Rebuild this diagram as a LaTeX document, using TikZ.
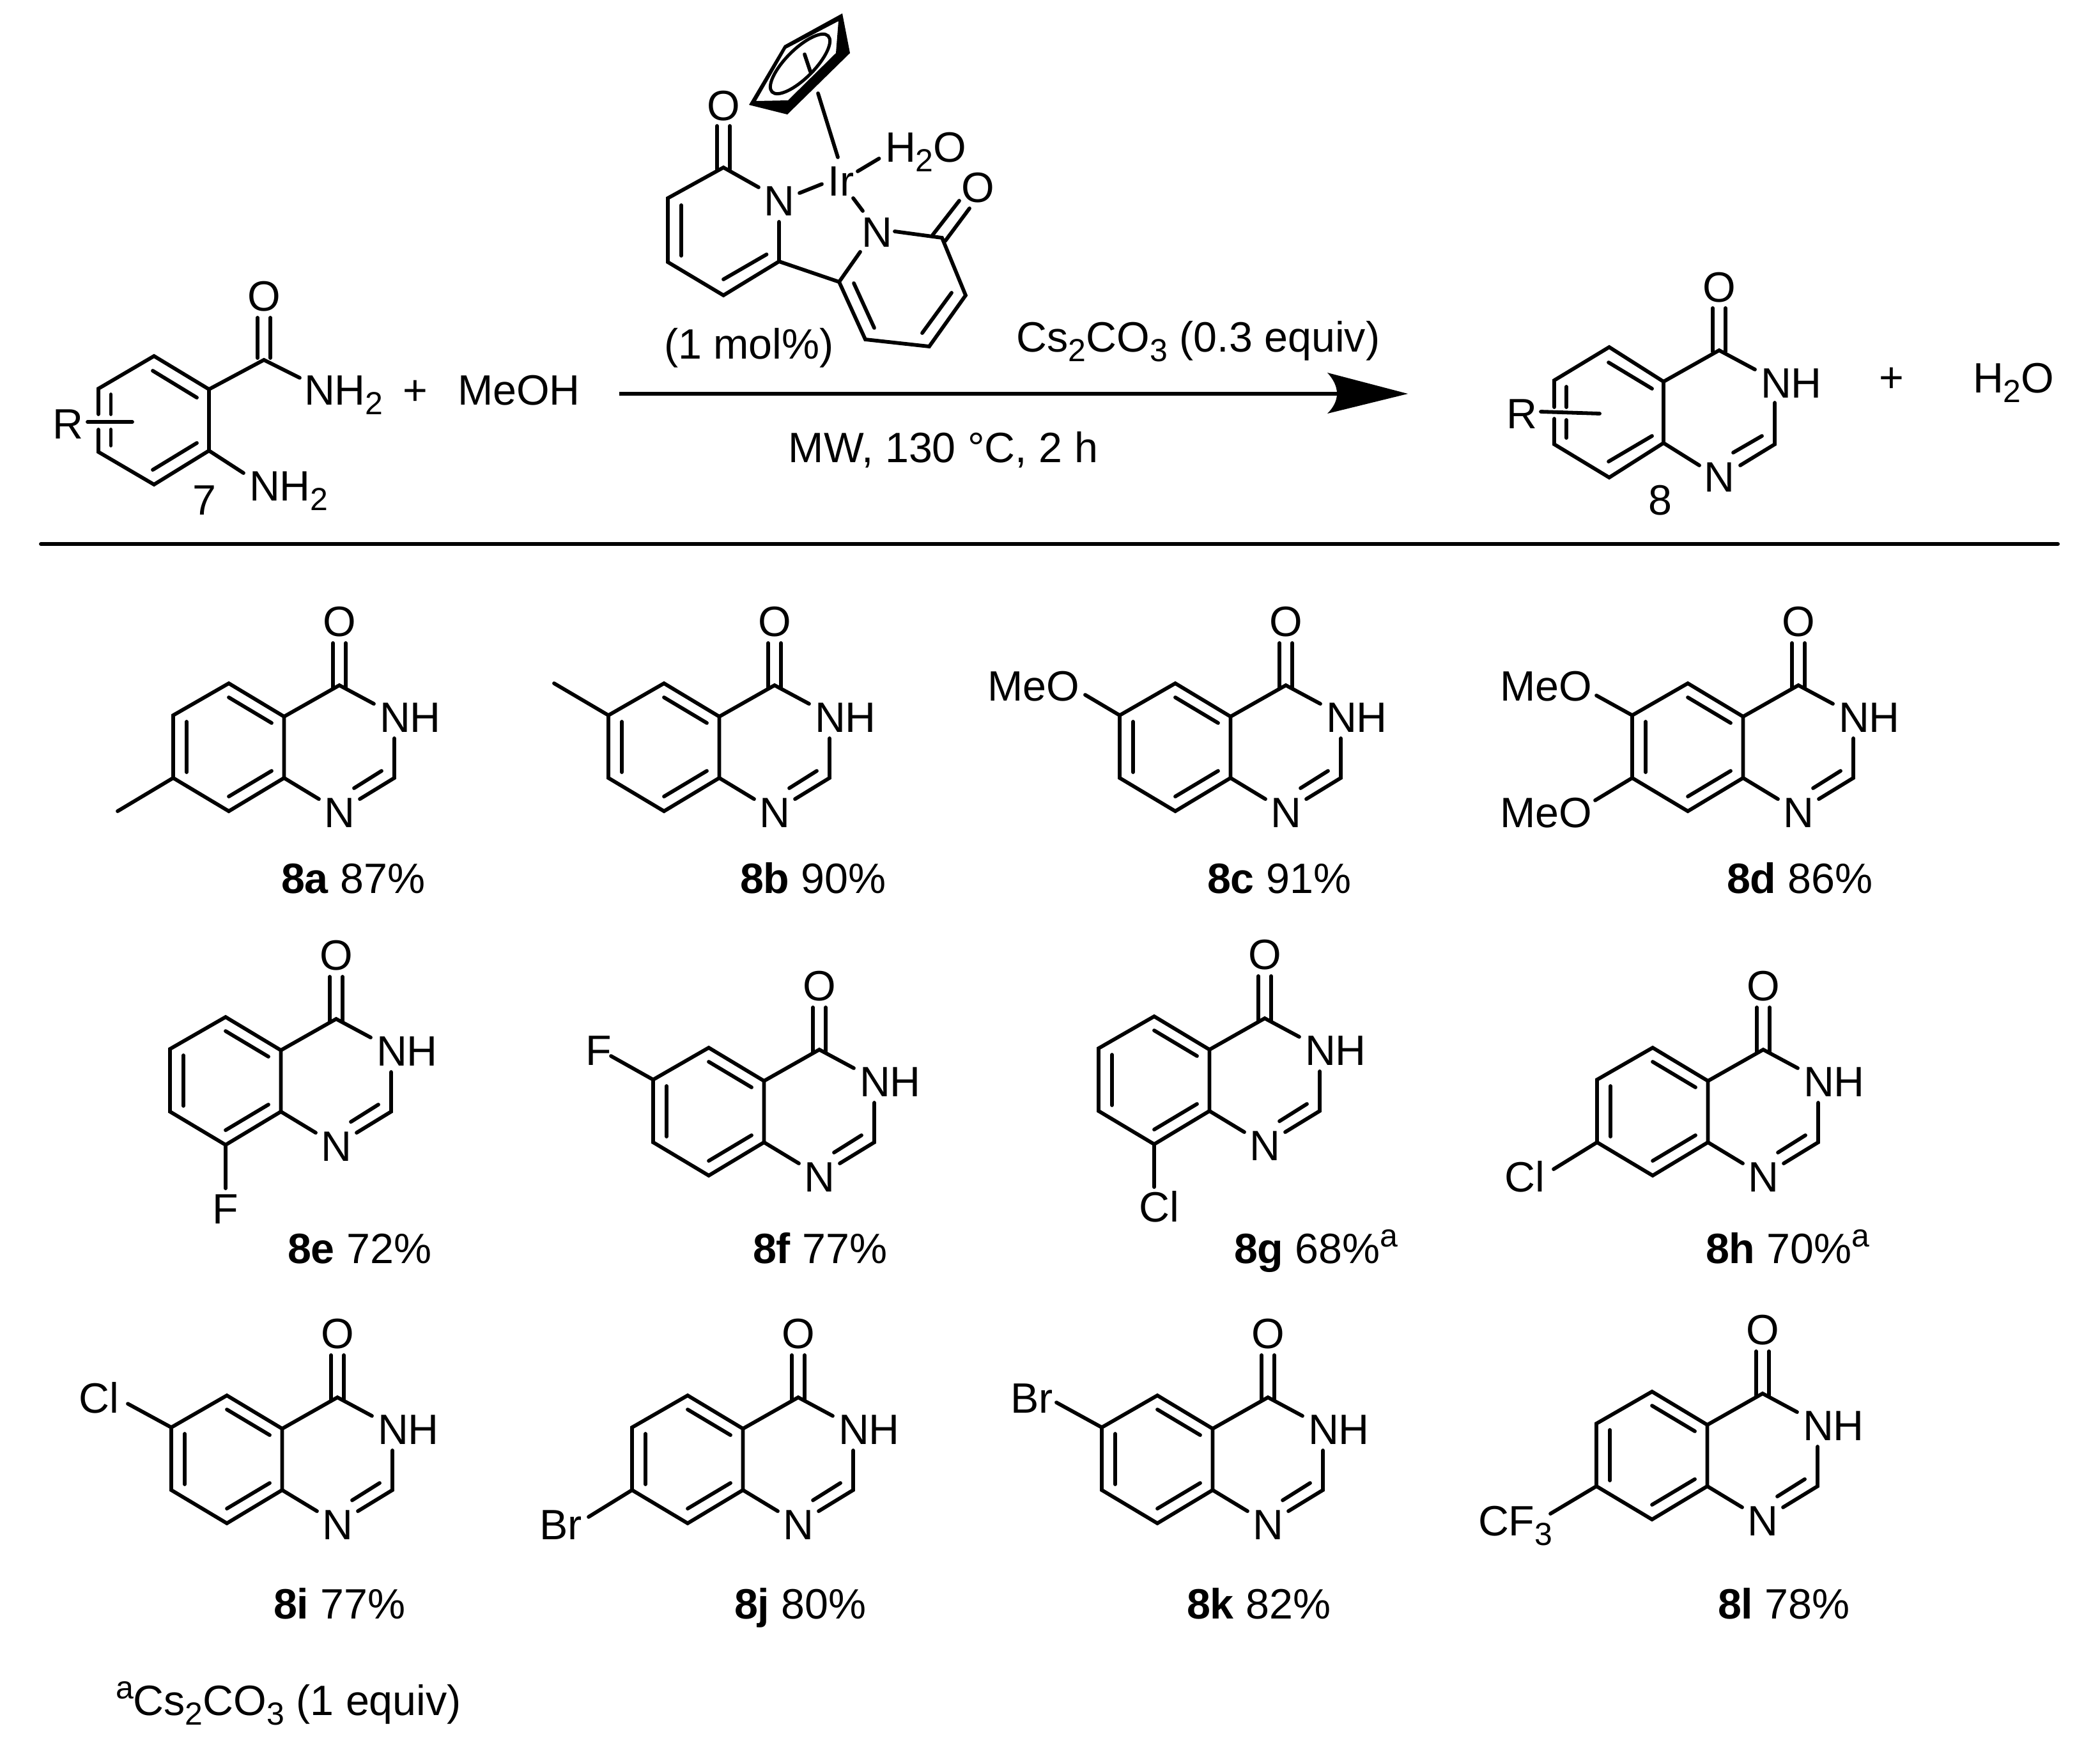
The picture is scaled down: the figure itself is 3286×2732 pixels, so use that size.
\documentclass[tikz,border=0pt]{standalone}
\usepackage{fontspec}
\setmainfont{Liberation Sans}
\usetikzlibrary{calc}
\newcommand\lowr[1]{\raisebox{-3.75pt}{\fontsize{12.5pt}{12pt}\selectfont #1}}
\newcommand\highr[1]{\raisebox{6.5pt}{\fontsize{12.5pt}{12pt}\selectfont #1}}
\tikzset{
  bond/.style={line width=1.45pt,line cap=round,line join=miter,black},
  atom/.style={inner sep=0pt,outer sep=0pt,anchor=base,font=\fontsize{16.6pt}{18pt}\selectfont},
  atomw/.style={atom,anchor=base west},
  atome/.style={atom,anchor=base east},
  yieldlabel/.style={atom,anchor=base west}
}
% quinazolinone skeleton, origin = centre of the N1 label
\newcommand\quin[3]{%
\begin{scope}[shift={(#2,#3)},name prefix=#1-]
  \coordinate (C4) at (0,-198);
  \coordinate (C4a) at (-86.5,-149);
  \coordinate (C8a) at (-86.5,-53);
  \coordinate (C5) at (-173,-201);
  \coordinate (C6) at (-260,-151);
  \coordinate (C7) at (-260,-53);
  \coordinate (C8) at (-173,-1);
  \coordinate (C2) at (86,-53);
  \coordinate (n3e) at (54,-169);
  \coordinate (n3s) at (86,-115);
  \coordinate (n1a) at (-32,-20);
  \coordinate (n1b) at (32,-20);
  \coordinate (i1a) at (66,-64);
  \coordinate (i1b) at (23,-37);
  \coordinate (o1a) at (-10,-193);
  \coordinate (o1b) at (-10,-264);
  \coordinate (o2a) at (10,-193);
  \coordinate (o2b) at (10,-264);
  \coordinate (i2a) at (-173,-179);
  \coordinate (i2b) at (-106,-139);
  \coordinate (i3a) at (-239,-141);
  \coordinate (i3b) at (-239,-62);
  \coordinate (i4a) at (-173,-24);
  \coordinate (i4b) at (-106,-64);
  \coordinate (anc) at (0,0);
  \node[atom] (N1) at (0,24) {N};
  \node[atomw] (NH) at (63,-125) {NH};
  \node[atom] (O) at (0,-275) {O};
  \draw[bond] (C4a)--(C5)--(C6)--(C7)--(C8)--(C8a)--cycle;
  \draw[bond] (C4a)--(C4)--(n3e);
  \draw[bond] (C8a)--(n1a);
  \draw[bond] (n1b)--(C2)--(n3s);
  \draw[bond] (i1a)--(i1b);
  \draw[bond] (o1a)--(o1b);
  \draw[bond] (o2a)--(o2b);
  \draw[bond] (i2a)--(i2b);
  \draw[bond] (i3a)--(i3b);
  \draw[bond] (i4a)--(i4b);
\end{scope}}
% #1 molecule, #2 ring atom, #3 free end (offset from anchor), #4 text style, #5 text position, #6 text
\newcommand\subst[6]{%
  \node[#4] (#1-X#2) at ($(#1-anc)+(#5)$) {#6};
  \coordinate (#1-E#2) at ($(#1-anc)+(#3)$);
  \draw[bond] (#1-#2)--(#1-E#2);
}
\begin{document}
\begin{tikzpicture}[x=0.25pt,y=-0.25pt]
\useasboundingbox (0,0) rectangle (3286,2732);

% ---------- substrate 7
\coordinate (sa) at (241,557);
\coordinate (sb) at (154,608);
\coordinate (sb1) at (154,648);
\coordinate (sb2) at (154,672);
\coordinate (sc) at (154,707);
\coordinate (sd) at (241,758);
\coordinate (se) at (327,705);
\coordinate (sf) at (327,609);
\coordinate (sg) at (413,563);
\coordinate (sh) at (469,591);
\coordinate (si) at (381,740);
\draw[bond] (sb1)--(sb)--(sa)--(sf)--(se)--(sd)--(sc)--(sb2);
\draw[bond] (sf)--(sg)--(sh);
\draw[bond] (se)--(si);
\coordinate (si1) at (239,580); \coordinate (si2) at (308,622);
\coordinate (si3) at (239,735); \coordinate (si4) at (308,693);
\coordinate (si5) at (173.5,617); \coordinate (si6) at (173.5,648);
\coordinate (si7) at (173.5,672); \coordinate (si8) at (173.5,697);
\draw[bond] (si1)--(si2);
\draw[bond] (si3)--(si4);
\draw[bond] (si5)--(si6);
\draw[bond] (si7)--(si8);
\coordinate (so1) at (403,497); \coordinate (so2) at (403,560);
\coordinate (so3) at (423,497); \coordinate (so4) at (423,560);
\draw[bond] (so1)--(so2);
\draw[bond] (so3)--(so4);
\coordinate (sr1) at (137,660); \coordinate (sr2) at (207,660);
\draw[bond] (sr1)--(sr2);
\node[atom] (sO) at (413,486) {O};
\node[atomw] (sNH) at (476,633) {NH\lowr{2}};
\node[atomw] (sNHb) at (390,783) {NH\lowr{2}};
\node[atom] (sR) at (106,686) {R};
\node[atom] (s7) at (320,805) {7};
\node[atom] (plus1) at (650,633) {+};
\node[atomw] (meoh) at (716,633) {MeOH};

% ---------- catalyst
\coordinate (a1) at (1132,262);
\coordinate (a2) at (1045,310);
\coordinate (a3) at (1045,410);
\coordinate (a4) at (1132,462);
\coordinate (a5) at (1219,409);
\coordinate (a6) at (1219,347);
\coordinate (a7) at (1187,293);
\draw[bond] (a7)--(a1)--(a2)--(a3)--(a4)--(a5)--(a6);
\coordinate (b1) at (1313,441);
\coordinate (b2) at (1354,531);
\coordinate (b3) at (1454,542);
\coordinate (b4) at (1511,462);
\coordinate (b5) at (1474,372);
\coordinate (b6) at (1400,362);
\coordinate (b7) at (1346,394);
\draw[bond] (b7)--(b1)--(b2)--(b3)--(b4)--(b5)--(b6);
\draw[bond] (a5)--(b1);
\coordinate (ai1) at (1066,321); \coordinate (ai2) at (1066,400);
\coordinate (ai3) at (1132,437); \coordinate (ai4) at (1199.5,398);
\coordinate (bi1) at (1336,443); \coordinate (bi2) at (1368,513);
\coordinate (bi3) at (1489,458); \coordinate (bi4) at (1443,521);
\draw[bond] (ai1)--(ai2);
\draw[bond] (ai3)--(ai4);
\draw[bond] (bi1)--(bi2);
\draw[bond] (bi3)--(bi4);
\coordinate (ao1) at (1122,197); \coordinate (ao2) at (1122,265);
\coordinate (ao3) at (1142,197); \coordinate (ao4) at (1142,265);
\draw[bond] (ao1)--(ao2);
\draw[bond] (ao3)--(ao4);
\coordinate (bo1) at (1459,368); \coordinate (bo2) at (1501,314);
\coordinate (bo3) at (1479,377); \coordinate (bo4) at (1517,326);
\draw[bond] (bo1)--(bo2);
\draw[bond] (bo3)--(bo4);
\node[atom] (aO) at (1132,188) {O};
\node[atom] (bO) at (1530,316) {O};
\node[atom] (aN) at (1219,337) {N};
\node[atom] (bN) at (1372,386) {N};
\node[atom] (Ir) at (1316,306) {Ir};
\node[atomw] (wat) at (1385,253) {H\lowr{2}O};
\coordinate (ir1) at (1251,302); \coordinate (ir2) at (1286,288);
\coordinate (ir3) at (1335,310); \coordinate (ir4) at (1350,330);
\coordinate (ir5) at (1342,268); \coordinate (ir6) at (1375.5,248);
\coordinate (ir7) at (1280,146); \coordinate (ir8) at (1311,246);
\draw[bond] (ir1)--(ir2);
\draw[bond] (ir3)--(ir4);
\draw[bond] (ir5)--(ir6);
\draw[bond] (ir7)--(ir8);
% Cp ring
\fill[black,even odd rule] (1172,164)--(1227,71)--(1318,21)--(1330,83)--(1232,179)--cycle
  (1183,158)--(1230,76)--(1312,33)--(1308,83)--(1233,157)--cycle;
\draw[line width=1.25pt] (1252,100) ellipse [x radius=15.5pt,y radius=5.6pt,rotate=45];
\coordinate (cp1) at (1259,85); \coordinate (cp2) at (1268,112);
\draw[bond] (cp1)--(cp2);
\node[atom] (mol) at (1172,561) {(1 mol\%)};

% ---------- arrow
\coordinate (arr0) at (969,616);
\coordinate (arr1) at (2100,616);
\draw[line width=1.4pt] (arr0)--(arr1);
\fill[black] (2203,616)--(2077,583) .. controls (2097,605) and (2097,627) .. (2077,647)--cycle;
\node[atom] (cond1) at (1875,550) {Cs\lowr{2}CO\lowr{3} (0.3 equiv)};
\node[atom] (cond2) at (1476,723) {MW, 130 °C, 2 h};

% ---------- product 8
\coordinate (pa) at (2518,543);
\coordinate (pb) at (2432,595);
\coordinate (pb1) at (2432,637);
\coordinate (pb2) at (2432,655);
\coordinate (pc) at (2432,695);
\coordinate (pd) at (2518,747);
\coordinate (pe) at (2603,693);
\coordinate (pf) at (2603,597);
\coordinate (pg) at (2690,548);
\coordinate (ph) at (2746,578);
\coordinate (pi) at (2777,695);
\coordinate (pj) at (2777,630);
\coordinate (pk) at (2659,728);
\coordinate (pl) at (2723,728);
\draw[bond] (pb1)--(pb)--(pa)--(pf)--(pe)--(pd)--(pc)--(pb2);
\draw[bond] (pf)--(pg)--(ph);
\draw[bond] (pe)--(pk);
\draw[bond] (pl)--(pi)--(pj);
\coordinate (pi1) at (2757,682); \coordinate (pi2) at (2712,708);
\coordinate (pi3) at (2517,567); \coordinate (pi4) at (2585,608);
\coordinate (pi5) at (2517,722); \coordinate (pi6) at (2585,682);
\coordinate (pi7) at (2451,605); \coordinate (pi8) at (2451,637);
\coordinate (pi9) at (2451,657); \coordinate (pi10) at (2451,685);
\draw[bond] (pi1)--(pi2);
\draw[bond] (pi3)--(pi4);
\draw[bond] (pi5)--(pi6);
\draw[bond] (pi7)--(pi8);
\draw[bond] (pi9)--(pi10);
\coordinate (po1) at (2680,482); \coordinate (po2) at (2680,550);
\coordinate (po3) at (2700,482); \coordinate (po4) at (2700,550);
\draw[bond] (po1)--(po2);
\draw[bond] (po3)--(po4);
\coordinate (pr1) at (2411,644); \coordinate (pr2) at (2503,647);
\draw[bond] (pr1)--(pr2);
\node[atom] (pO) at (2690,472) {O};
\node[atomw] (pNH) at (2755,622) {NH};
\node[atom] (pN) at (2690,769) {N};
\node[atom] (pR) at (2381,670) {R};
\node[atom] (p8) at (2598,805) {8};
\node[atom] (plus2) at (2960,613) {+};
\node[atomw] (wat2) at (3087,614) {H\lowr{2}O};

% ---------- rule
\coordinate (ru0) at (64,851);
\coordinate (ru1) at (3220,851);
\draw[line width=1.5pt,line cap=round] (ru0)--(ru1);

% ---------- products
\quin{a}{531}{1270}
\quin{b}{1212}{1270}
\quin{c}{2012}{1270}
\quin{d}{2814}{1270}
\quin{e}{526}{1792}
\quin{f}{1282}{1840}
\quin{g}{1979}{1791}
\quin{h}{2759}{1840}
\quin{i}{528}{2384}
\quin{j}{1249}{2384}
\quin{k}{1984}{2384}
\quin{l}{2758}{2378}

\coordinate (a-Me) at ($(a-anc)+(-347,-1)$);
\draw[bond] (a-C7)--(a-Me);
\coordinate (b-Me) at ($(b-anc)+(-345,-201)$);
\draw[bond] (b-C6)--(b-Me);
\subst{c}{C6}{-314,-183}{atome}{-323,-174}{MeO}
\subst{d}{C6}{-316,-182}{atome}{-323,-174}{MeO}
\subst{d}{C7}{-318,-18}{atome}{-323,24}{MeO}
\subst{e}{C8}{-173,67}{atom}{-173,122}{F}
\subst{f}{C6}{-326,-188}{atom}{-345,-174}{F}
\subst{g}{C8}{-173,66}{atom}{-165,120}{Cl}
\subst{h}{C7}{-328,-11}{atome}{-342,24}{Cl}
\subst{i}{C6}{-328,-188}{atome}{-342,-174}{Cl}
\subst{j}{C7}{-328,-11}{atome}{-338,24}{Br}
\subst{k}{C6}{-331,-190}{atome}{-336,-174}{Br}
\subst{l}{C7}{-332,-10}{atomw}{-445,24}{CF\lowr{3}}

% ---------- yields
\node[yieldlabel] (ya) at (440,1397) {\textbf{8a} 87\%};
\node[yieldlabel] (yb) at (1158,1397) {\textbf{8b} 90\%};
\node[yieldlabel] (yc) at (1889,1397) {\textbf{8c} 91\%};
\node[yieldlabel] (yd) at (2702,1397) {\textbf{8d} 86\%};
\node[yieldlabel] (ye) at (450,1976) {\textbf{8e} 72\%};
\node[yieldlabel] (yf) at (1178,1976) {\textbf{8f} 77\%};
\node[yieldlabel] (yg) at (1931,1976) {\textbf{8g} 68\%\highr{a}};
\node[yieldlabel] (yh) at (2669,1976) {\textbf{8h} 70\%\highr{a}};
\node[yieldlabel] (yi) at (428,2532) {\textbf{8i} 77\%};
\node[yieldlabel] (yj) at (1149,2532) {\textbf{8j} 80\%};
\node[yieldlabel] (yk) at (1857,2532) {\textbf{8k} 82\%};
\node[yieldlabel] (yl) at (2688,2532) {\textbf{8l} 78\%};
\node[atomw] (foot) at (181,2683) {\highr{a}Cs\lowr{2}CO\lowr{3} (1 equiv)};
\end{tikzpicture}
\end{document}
